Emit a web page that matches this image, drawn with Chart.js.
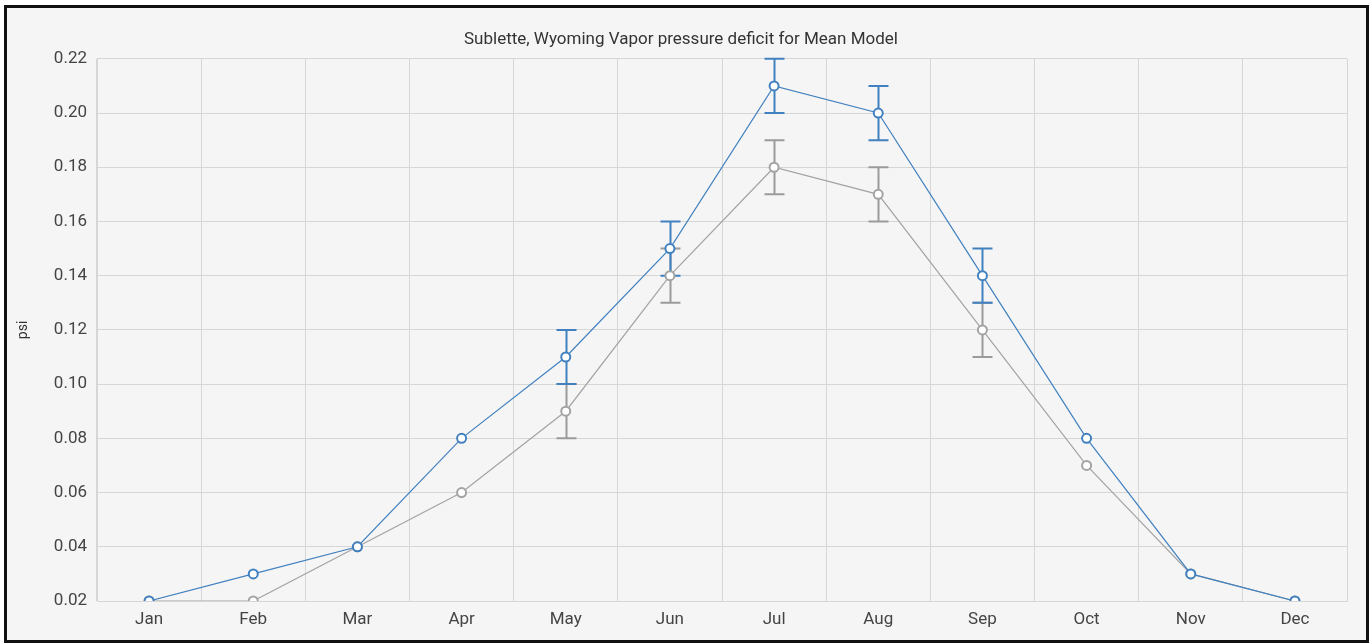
<!DOCTYPE html>
<html>
<head>
<meta charset="utf-8">
<script src="https://cdn.jsdelivr.net/npm/chart.js@4/dist/chart.umd.min.js"></script>
<style>
  html, body { margin: 0; padding: 0; background: #ffffff; }
  #frame { position: absolute; left: 4px; top: 5px; width: 1359px; height: 632px;
           border: 3px solid #111; background: #f5f5f5; }
  #c { display: block; }
</style>
</head>
<body>
<div id="frame"><canvas id="c" width="1359" height="632"></canvas></div>
<script>
const months = ["Jan","Feb","Mar","Apr","May","Jun","Jul","Aug","Sep","Oct","Nov","Dec"];
const seriesA = [0.02,0.03,0.04,0.08,0.11,0.15,0.21,0.20,0.14,0.08,0.03,0.02];
const seriesALow  = [null,null,null,null,0.10,0.14,0.20,0.19,0.13,null,null,null];
const seriesAHigh = [null,null,null,null,0.12,0.16,0.22,0.21,0.15,null,null,null];
const seriesB = [0.02,0.02,0.04,0.06,0.09,0.14,0.18,0.17,0.12,0.07,0.03,0.02];
const seriesBLow  = [null,null,null,null,0.08,0.13,0.17,0.16,0.11,null,null,null];
const seriesBHigh = [null,null,null,null,0.10,0.15,0.19,0.18,0.13,null,null,null];
const yTicks = [0.02,0.04,0.06,0.08,0.10,0.12,0.14,0.16,0.18,0.20,0.22];

const BLUE = "#4281c0";
const GRAY = "#a3a3a3";

const errorBars = {
  id: "errorBars",
  beforeDatasetsDraw(chart) {
    const ctx = chart.ctx;
    const x = chart.scales.x, y = chart.scales.y;
    const sets = [
      {low: seriesBLow, high: seriesBHigh, color: "#9b9b9b"},
      {low: seriesALow, high: seriesAHigh, color: BLUE}
    ];
    ctx.save();
    sets.forEach(s => {
      ctx.strokeStyle = s.color;
      ctx.lineWidth = 2;
      for (let i = 0; i < months.length; i++) {
        if (s.low[i] == null) continue;
        const px = Math.round(x.getPixelForValue(i)) + 0.5;
        const y1 = y.getPixelForValue(s.low[i]);
        const y2 = y.getPixelForValue(s.high[i]);
        ctx.beginPath();
        ctx.moveTo(px, y1); ctx.lineTo(px, y2);
        ctx.moveTo(px - 10, y1); ctx.lineTo(px + 10, y1);
        ctx.moveTo(px - 10, y2); ctx.lineTo(px + 10, y2);
        ctx.stroke();
      }
    });
    ctx.restore();
  }
};

new Chart(document.getElementById("c"), {
  type: "line",
  data: {
    labels: months,
    datasets: [
      { label: "A", data: seriesA, borderColor: BLUE, borderWidth: 1.2,
        pointRadius: 4.5, pointBorderWidth: 2, pointBackgroundColor: "#ffffff",
        pointBorderColor: BLUE, tension: 0, clip: 0 },
      { label: "B", data: seriesB, borderColor: GRAY, borderWidth: 1.2,
        pointRadius: 4.5, pointBorderWidth: 2, pointBackgroundColor: "#ffffff",
        pointBorderColor: GRAY, tension: 0, clip: 0 }
    ]
  },
  options: {
    responsive: false,
    animation: false,
    events: [],
    layout: { padding: { left: 8, right: 19, top: 12, bottom: 0 } },
    plugins: {
      legend: { display: false },
      tooltip: { enabled: false },
      title: { display: true, text: "Sublette, Wyoming Vapor pressure deficit for Mean Model",
               color: "#333", font: { family: "Roboto", size: 17, weight: "normal" },
               padding: { top: 10, bottom: 8.4 } }
    },
    scales: {
      x: {
        offset: true,
        grid: { offset: true, color: "#d6d6d6", drawTicks: false },
        border: { color: "#d6d6d6" },
        ticks: { color: "#444", font: { family: "Roboto", size: 17 }, padding: 9, maxRotation: 0 },
        afterFit(s) { s.height = 39; }
      },
      y: {
        min: 0.02, max: 0.22,
        afterBuildTicks(s) { s.ticks = yTicks.map(v => ({ value: v })); },
        grid: { color: "#d6d6d6", drawTicks: false },
        border: { color: "#d6d6d6" },
        ticks: { color: "#444", font: { family: "Roboto", size: 17 }, padding: 10,
                 callback: v => Number(v).toFixed(2) },
        title: { display: true, text: "psi", color: "#333",
                 font: { family: "Roboto", size: 14 }, padding: { top: 0, bottom: 4 } },
        afterFit(s) { s.width = 82; }
      }
    }
  },
  plugins: [errorBars]
});
</script>
</body>
</html>
